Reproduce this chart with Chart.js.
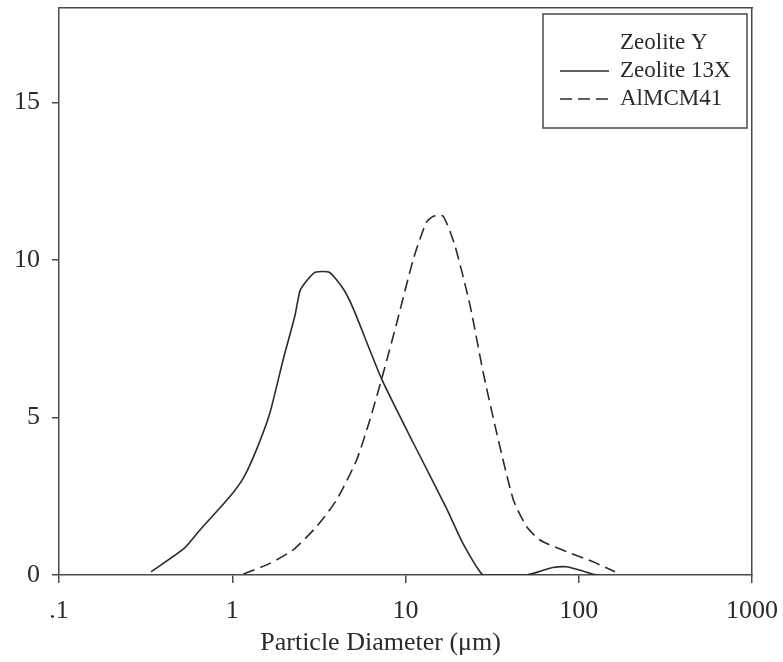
<!DOCTYPE html>
<html>
<head>
<meta charset="utf-8">
<script src="https://cdn.jsdelivr.net/npm/chart.js@4/dist/chart.umd.min.js"></script>
<style>
  html, body { margin: 0; padding: 0; background: #ffffff; }
  #wrap { width: 783px; height: 662px; position: relative; }
</style>
</head>
<body>
<div id="wrap"><canvas id="psd"></canvas></div>
<script>
// Particle size distributions (volume %) against particle diameter in µm
const seriesNames = ['Zeolite Y', 'Zeolite 13X', 'AlMCM41'];

const diam13X = [0.34, 0.53, 0.64, 0.97, 1.16, 1.38, 1.65, 1.97, 2.30, 2.46, 2.69, 3.01, 3.63, 4.38, 5.01,
                 7.3, 11.1, 17.3, 21.0, 23.6, 26.0, 28.1, 50, 60, 71, 85, 102, 121, 130];
const vol13X  = [0.1, 0.85, 1.38, 2.49, 3.08, 3.98, 5.15, 6.85, 8.23, 9.02, 9.34, 9.61, 9.61, 9.08, 8.44,
                 6.21, 4.19, 2.1, 1.1, 0.6, 0.22, 0.0, 0.0, 0.12, 0.24, 0.26, 0.15, 0.02, 0.0];

const diamMCM = [1.16, 1.65, 2.25, 3.07, 4.01, 5.23, 6.24, 7.45, 8.9, 11.1, 13.2, 14.5, 16.5, 19.3, 23.6,
                 28.1, 33.6, 41.9, 50, 59.7, 85, 121, 162];
const volMCM  = [0.03, 0.37, 0.8, 1.54, 2.39, 3.66, 4.94, 6.42, 8.0, 10.03, 11.2, 11.39, 11.39, 10.45, 8.55,
                 6.42, 4.51, 2.39, 1.54, 1.11, 0.74, 0.42, 0.1];

const diamY = [];
const volY  = [];

const xTickValues = [0.1, 1, 10, 100, 1000];
const xTickLabels = ['.1', '1', '10', '100', '1000'];
const yTickValues = [0, 5, 10, 15];
const yTickLabels = ['0', '5', '10', '15'];
const xTitle = 'Particle Diameter (\u03bcm)';

const toPoints = (xs, ys) => xs.map((x, i) => ({ x: x, y: ys[i] }));

const ink = '#2b2b2b';
const frameInk = '#4a4a4a';
const serif = '"Liberation Serif", "DejaVu Serif", serif';

// Boxed legend placed in the upper-right corner of the plot area
const boxedLegend = {
  id: 'boxedLegend',
  afterDraw(chart) {
    const { ctx, chartArea } = chart;
    const right = chartArea.right - 5;
    const top = chartArea.top + 6;
    const left = right - 204;
    const bottom = top + 114;
    ctx.save();
    ctx.strokeStyle = frameInk;
    ctx.lineWidth = 1.5;
    ctx.strokeRect(left, top, right - left, bottom - top);
    ctx.font = '23px ' + serif;
    ctx.fillStyle = ink;
    ctx.textBaseline = 'middle';
    chart.data.datasets.forEach((ds, i) => {
      const y = top + 29 + i * 28;
      if (ds.borderWidth > 0) {
        ctx.beginPath();
        ctx.setLineDash(ds.borderDash || []);
        ctx.strokeStyle = ds.borderColor;
        ctx.lineWidth = ds.borderWidth;
        ctx.moveTo(left + 17, y);
        ctx.lineTo(left + 66, y);
        ctx.stroke();
        ctx.setLineDash([]);
      }
      ctx.fillText(ds.label, left + 77, y);
    });
    ctx.restore();
  }
};

// Axis title under the diameter scale
const axisTitle = {
  id: 'axisTitle',
  afterDraw(chart) {
    const { ctx, chartArea } = chart;
    ctx.save();
    ctx.font = '26px ' + serif;
    ctx.fillStyle = ink;
    ctx.textAlign = 'center';
    ctx.textBaseline = 'middle';
    ctx.fillText(xTitle, chartArea.left + (chartArea.right - chartArea.left) * 0.464, chartArea.bottom + 68);
    ctx.restore();
  }
};

const fixedTicks = (values) => (scale) => { scale.ticks = values.map(v => ({ value: v })); };
// Fix an axis' thickness and drop the label overhang padding so the plot frame stays put
const fixSize = (prop, size) => (scale) => {
  scale[prop] = size;
  scale.paddingTop = 0; scale.paddingBottom = 0; scale.paddingLeft = 0; scale.paddingRight = 0;
};

new Chart(document.getElementById('psd'), {
  type: 'line',
  data: {
    datasets: [
      { label: seriesNames[0], data: toPoints(diamY, volY), borderColor: ink, borderWidth: 0, pointRadius: 0 },
      { label: seriesNames[1], data: toPoints(diam13X, vol13X), borderColor: ink, borderWidth: 1.6,
        pointRadius: 0, tension: 0.2, fill: false },
      { label: seriesNames[2], data: toPoints(diamMCM, volMCM), borderColor: ink, borderWidth: 1.6,
        borderDash: [12, 6], pointRadius: 0, tension: 0.2, fill: false }
    ]
  },
  options: {
    responsive: true,
    maintainAspectRatio: false,
    animation: false,
    layout: { autoPadding: false, padding: { left: 0, right: 31, top: 8, bottom: 0 } },
    plugins: { legend: { display: false }, tooltip: { enabled: false } },
    scales: {
      x: {
        type: 'logarithmic', position: 'bottom', min: 0.1, max: 1000,
        afterBuildTicks: fixedTicks(xTickValues),
        afterFit: fixSize('height', 87),
        grid: { drawOnChartArea: false, drawTicks: true, tickLength: 8, color: frameInk, lineWidth: 1.5 },
        border: { display: true, color: frameInk, width: 1.5 },
        ticks: {
          color: ink, padding: 13, maxRotation: 0, autoSkip: false,
          font: { family: serif, size: 26 },
          callback: (v) => { const i = xTickValues.indexOf(v); return i >= 0 ? xTickLabels[i] : ''; }
        }
      },
      y: {
        type: 'linear', position: 'left', min: 0, max: 18,
        afterBuildTicks: fixedTicks(yTickValues),
        afterFit: fixSize('width', 59),
        grid: { drawOnChartArea: false, drawTicks: true, tickLength: 7, color: frameInk, lineWidth: 1.5 },
        border: { display: true, color: frameInk, width: 1.5 },
        ticks: {
          color: ink, padding: 12,
          font: { family: serif, size: 26 },
          callback: (v) => { const i = yTickValues.indexOf(v); return i >= 0 ? yTickLabels[i] : ''; }
        }
      },
      xTop: {
        type: 'logarithmic', position: 'top', min: 0.1, max: 1000,
        afterFit: fixSize('height', 0),
        grid: { display: false, drawTicks: false },
        border: { display: true, color: frameInk, width: 1.5 },
        ticks: { display: false }
      },
      yRight: {
        type: 'linear', position: 'right', min: 0, max: 18,
        afterFit: fixSize('width', 0),
        grid: { display: false, drawTicks: false },
        border: { display: true, color: frameInk, width: 1.5 },
        ticks: { display: false }
      }
    }
  },
  plugins: [boxedLegend, axisTitle]
});
</script>
</body>
</html>
